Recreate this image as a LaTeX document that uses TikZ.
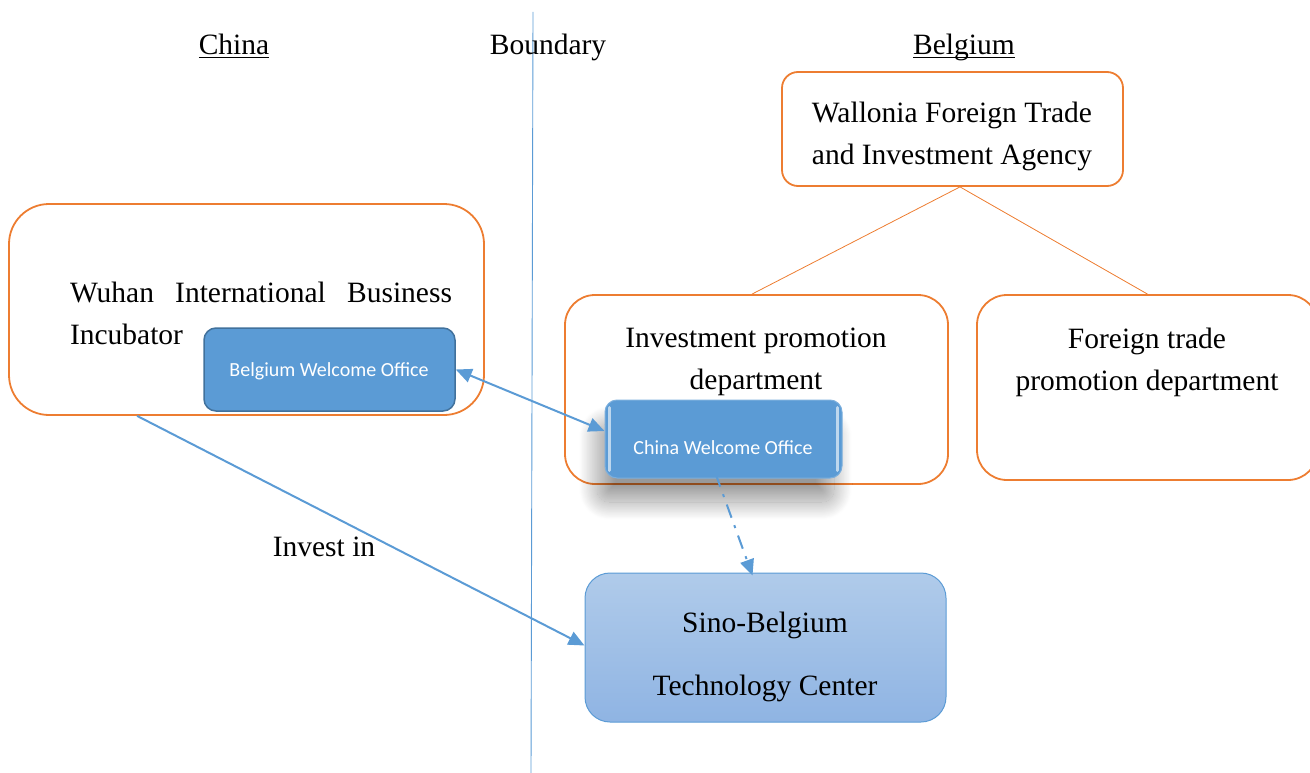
\documentclass[tikz,border=0pt]{standalone}
\usepackage{fontspec}
\setmainfont{Liberation Serif}
\newfontfamily\calibrifont{Carlito}
\usetikzlibrary{arrows.meta,shadows.blur,shadings}
\definecolor{orng}{HTML}{ED7D31}
\definecolor{blu}{HTML}{5B9BD5}
\definecolor{bludark}{HTML}{41719C}
\definecolor{sinotop}{HTML}{B0CBEA}
\definecolor{sinobot}{HTML}{8FB4E3}
\newcommand{\myul}[1]{\underline{\raisebox{0pt}[\height][1pt]{#1}}}
\tikzset{
  obox/.style={draw=orng, line width=1.8pt, rectangle, inner sep=0pt},
  serif/.style={font=\fontsize{29.5}{42}\selectfont, align=center, inner sep=0pt},
  small/.style={font=\calibrifont\fontsize{20}{24}\selectfont, text=white, inner sep=0pt},
  barrow/.style={draw=blu, line width=2pt},
  tip/.style={-{Triangle[length=16pt,width=14pt]}},
}
\begin{document}
\begin{tikzpicture}[x=1pt,y=-1pt]
\useasboundingbox (0,0) rectangle (1310,773);
% boundary line
\coordinate (btop) at (533,12);
\coordinate (bbot) at (531,773);
\draw[blu, line width=0.9pt] (btop) -- (bbot);
% headings
\node[serif, anchor=base] (china) at (234,55) {\myul{China}};
\node[serif, anchor=base] (bound) at (548,55) {Boundary};
\node[serif, anchor=base] (belg) at (964,55) {\myul{Belgium}};
% orange boxes
\node[obox, rounded corners=16pt, minimum width=341pt, minimum height=114pt] (wal) at (952.5,129) {};
\node[serif] (waltext) at (952,136) {Wallonia Foreign Trade\\and Investment Agency};
\node[obox, rounded corners=40pt, minimum width=475pt, minimum height=211pt] (wuhan) at (246.5,309.5) {};
\node[serif, text width=382pt, align=left] (wuhantext) at (261,313) {\makebox[382pt][l]{Wuhan\hfill International\hfill Business}\\Incubator};
\node[obox, rounded corners=30pt, minimum width=383pt, minimum height=189pt] (inv) at (756.5,389.5) {};
\node[serif] (invtext) at (756,362) {Investment promotion\\department};
\node[obox, rounded corners=30pt, minimum width=341pt, minimum height=185pt] (for) at (1147.5,387.5) {};
\node[serif] (fortext) at (1147,362) {Foreign trade\\promotion department};
% tree lines
\draw[orng, line width=0.8pt] ([xshift=7.5pt]wal.south) -- ([xshift=-4.5pt]inv.north);
\draw[orng, line width=0.8pt] ([xshift=7.5pt]wal.south) -- (for.north);
% Belgium welcome office
\node[draw=bludark, fill=blu, line width=1.5pt, rounded corners=12pt, minimum width=251pt, minimum height=83pt] (bwo) at (329.5,369.5) {};
\node[small] (bwotext) at (329,371) {Belgium Welcome Office};
% China welcome office
\node[draw=blu!80!white, fill=blu, line width=1pt, rounded corners=12pt, minimum width=237pt, minimum height=78pt,
  blur shadow={shadow xshift=-8pt, shadow yshift=-24pt, shadow blur radius=18pt, shadow blur steps=40, shadow opacity=40}] (cwo) at (723.5,439) {};
\node[small] (cwotext) at (723,448) {China Welcome Office};
\draw[white!60!blu, line width=3pt, line cap=round] ([xshift=5pt,yshift=-8pt]cwo.north west) -- ([xshift=5pt,yshift=8pt]cwo.south west);
\draw[white!60!blu, line width=3pt, line cap=round] ([xshift=-5pt,yshift=-8pt]cwo.north east) -- ([xshift=-5pt,yshift=8pt]cwo.south east);
% Sino-Belgium
\node[draw=blu, line width=1pt, rounded corners=25pt, top color=sinotop, bottom color=sinobot, minimum width=361pt, minimum height=149pt] (sino) at (765.5,647.5) {};
\node[serif, font=\fontsize{29.5}{63}\selectfont] (sinotext) at (765,657) {Sino-Belgium\\Technology Center};
% connectors
\draw[barrow, {Triangle[length=16pt,width=14pt]}-{Triangle[length=16pt,width=14pt]}] (bwo.east) -- ([yshift=8pt]cwo.west);
\draw[barrow, tip] ([xshift=129pt]wuhan.south west) -- ([yshift=2pt]sino.west);
\draw[barrow, tip, dash pattern=on 14pt off 8pt on 3pt off 8pt] ([xshift=-8pt,yshift=5pt]cwo.south) -- ([xshift=-13pt,yshift=-3pt]sino.north);
\node[serif] (investin) at (324,547) {Invest in};
\end{tikzpicture}
\end{document}
